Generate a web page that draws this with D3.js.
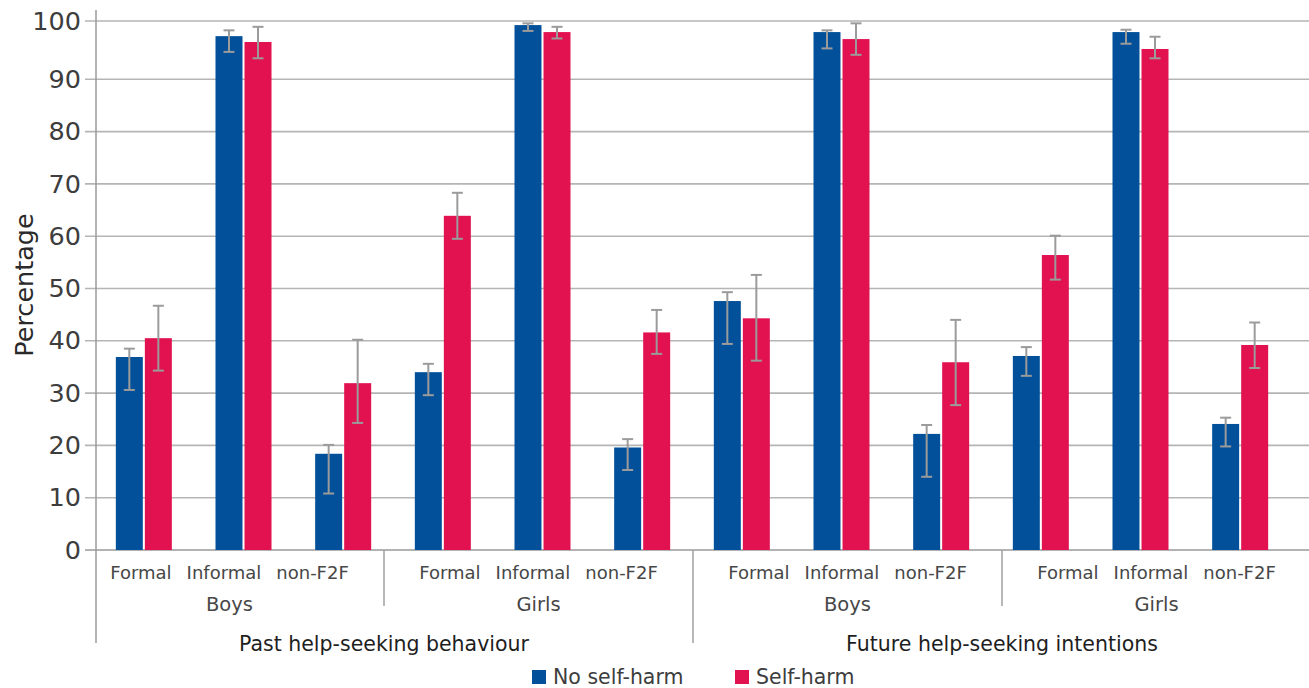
<!DOCTYPE html>
<html>
<head>
<meta charset="utf-8">
<script src="https://cdn.jsdelivr.net/npm/d3@7/dist/d3.min.js"></script>
<style>
  html, body { margin: 0; padding: 0; background: #ffffff; }
  svg { display: block; }
  text { font-family: "DejaVu Sans", sans-serif; }
</style>
</head>
<body>
<svg id="chart" width="1309" height="688"></svg>
<script>
// Help-seeking by self-harm status: percentages with 95% confidence intervals
const phases = ["Past help-seeking behaviour", "Future help-seeking intentions"];
const genders = ["Boys", "Girls"];
const types = ["Formal", "Informal", "non-F2F"];
const seriesNames = ["No self-harm", "Self-harm"];
const seriesColors = ["#025099", "#e21150"];

// Order: Past Boys (F, I, N), Past Girls, Future Boys, Future Girls
const noSelfHarm     = [36.9, 97.4, 18.4, 34.0, 99.3, 19.6, 47.6, 98.1, 22.2, 37.1, 98.1, 24.1];
const noSelfHarmLow  = [30.6, 94.7, 10.8, 29.6, 98.3, 15.3, 39.4, 95.3, 14.0, 33.3, 96.1, 19.8];
const noSelfHarmHigh = [38.5, 98.4, 20.1, 35.6, 99.6, 21.2, 49.3, 98.4, 23.9, 38.8, 98.5, 25.3];
const selfHarm       = [40.5, 96.4, 31.9, 63.9, 98.1, 41.6, 44.3, 96.9, 35.9, 56.4, 95.2, 39.2];
const selfHarmLow    = [34.3, 93.6, 24.3, 59.5, 97.0, 37.5, 36.2, 94.2, 27.7, 51.7, 93.6, 34.8];
const selfHarmHigh   = [46.7, 99.0, 40.2, 68.3, 99.0, 45.9, 52.6, 99.6, 44.0, 60.1, 97.3, 43.5];
const yTicks = [0, 10, 20, 30, 40, 50, 60, 70, 80, 90, 100];
const yLabel = "Percentage";

// Build the flat category list and the gender sub-groups
const cats = [];
const subGroups = [];
phases.forEach((p, pi) => genders.forEach((g, gi) => {
  subGroups.push({ id: pi + "-" + gi, phase: p, gender: g });
  types.forEach((t, ti) => cats.push({ id: pi + "-" + gi + "-" + ti, phase: p, gender: g, type: t }));
}));
cats.forEach((c, i) => {
  c.values = [
    { s: 0, v: noSelfHarm[i], lo: noSelfHarmLow[i], hi: noSelfHarmHigh[i] },
    { s: 1, v: selfHarm[i], lo: selfHarmLow[i], hi: selfHarmHigh[i] }
  ];
});

const svg = d3.select("#chart");
const axisX = 96, plotRight = 1309, baseY = 550;

// Scales
const y = d3.scaleLinear().domain([0, 90, 100]).range([baseY, 79.3, 21]);
const x = d3.scaleBand().domain(cats.map(c => c.id)).range([94, 1290]);
const xs = d3.scaleBand().domain([0, 1])
  .range([x.bandwidth() / 2 - 28, x.bandwidth() / 2 + 28]).paddingInner(0.07);
const gx = d3.scaleBand().domain(subGroups.map(s => s.id)).range([75, 1311]);
const px = d3.scaleBand().domain(phases).range([75, 1311]);

// Gridlines
svg.append("g").selectAll("line").data(yTicks).join("line")
  .attr("x1", 85).attr("x2", plotRight)
  .attr("y1", d => y(d)).attr("y2", d => y(d))
  .attr("stroke", d => d === 0 ? "#9a9a9a" : "#b5b5b5")
  .attr("stroke-width", 1.6);

// Y axis labels
const yAxis = d3.axisLeft(y).tickValues(yTicks).tickSize(0).tickPadding(15);
const ya = svg.append("g").attr("transform", `translate(${axisX},0)`).call(yAxis);
ya.select(".domain").remove();
ya.selectAll("text")
  .attr("font-family", "DejaVu Sans, sans-serif")
  .attr("font-size", 25.5)
  .attr("fill", "#3d3d3d");

// Axis line and category separators
svg.append("line").attr("x1", axisX).attr("x2", axisX).attr("y1", 10).attr("y2", 643)
  .attr("stroke", "#9a9a9a").attr("stroke-width", 1.5);
subGroups.slice(1).forEach(s => {
  const isPhase = s.gender === genders[0];
  svg.append("line")
    .attr("x1", gx(s.id)).attr("x2", gx(s.id))
    .attr("y1", baseY).attr("y2", isPhase ? 643 : 606)
    .attr("stroke", "#a0a0a0").attr("stroke-width", 1.5);
});

// Bars
const catG = svg.append("g").selectAll("g").data(cats).join("g")
  .attr("transform", d => `translate(${x(d.id)},0)`);
catG.selectAll("rect").data(d => d.values).join("rect")
  .attr("x", d => xs(d.s))
  .attr("width", xs.bandwidth())
  .attr("y", d => y(d.v))
  .attr("height", d => baseY - y(d.v))
  .attr("fill", d => seriesColors[d.s]);

// Error bars
const eb = catG.selectAll("g.err").data(d => d.values).join("g").attr("class", "err")
  .attr("stroke", "#9b9b9b").attr("stroke-width", 2);
eb.append("line")
  .attr("x1", d => xs(d.s) + xs.bandwidth() / 2).attr("x2", d => xs(d.s) + xs.bandwidth() / 2)
  .attr("y1", d => y(d.lo)).attr("y2", d => y(d.hi));
["lo", "hi"].forEach(k => {
  eb.append("line")
    .attr("x1", d => xs(d.s) + xs.bandwidth() / 2 - 5.5)
    .attr("x2", d => xs(d.s) + xs.bandwidth() / 2 + 5.5)
    .attr("y1", d => y(d[k])).attr("y2", d => y(d[k]));
});

// Category labels: the three types packed and centred under each gender group
const typeGap = 15;
subGroups.forEach(s => {
  const cx = gx(s.id) + gx.bandwidth() / 2;
  const texts = types.map(t => svg.append("text")
    .attr("y", 579)
    .attr("font-size", 18)
    .attr("fill", "#474747")
    .text(t));
  const widths = texts.map(t => t.node().getComputedTextLength());
  const total = d3.sum(widths) + typeGap * (types.length - 1);
  let cur = cx - total / 2;
  texts.forEach((t, i) => { t.attr("x", cur); cur += widths[i] + typeGap; });

  svg.append("text")
    .attr("x", cx).attr("y", 611)
    .attr("text-anchor", "middle")
    .attr("font-size", 19.5)
    .attr("fill", "#474747")
    .text(s.gender);
});

// Phase labels
svg.append("g").selectAll("text").data(phases).join("text")
  .attr("x", d => px(d) + px.bandwidth() / 2)
  .attr("y", 651)
  .attr("text-anchor", "middle")
  .attr("font-size", 20.5)
  .attr("fill", "#1e1e1e")
  .text(d => d);

// Y axis title
svg.append("text")
  .attr("transform", "translate(33,285) rotate(-90)")
  .attr("text-anchor", "middle")
  .attr("font-size", 25.5)
  .attr("fill", "#2a2a2a")
  .text(yLabel);

// Legend
const legendX = [532, 735];
const lg = svg.append("g").selectAll("g").data(seriesNames).join("g")
  .attr("transform", (d, i) => `translate(${legendX[i]},670)`);
lg.append("rect").attr("width", 14).attr("height", 14).attr("fill", (d, i) => seriesColors[i]);
lg.append("text").attr("x", 21).attr("y", 14)
  .attr("font-size", 20.5).attr("fill", "#3d3d3d").text(d => d);
</script>
</body>
</html>
